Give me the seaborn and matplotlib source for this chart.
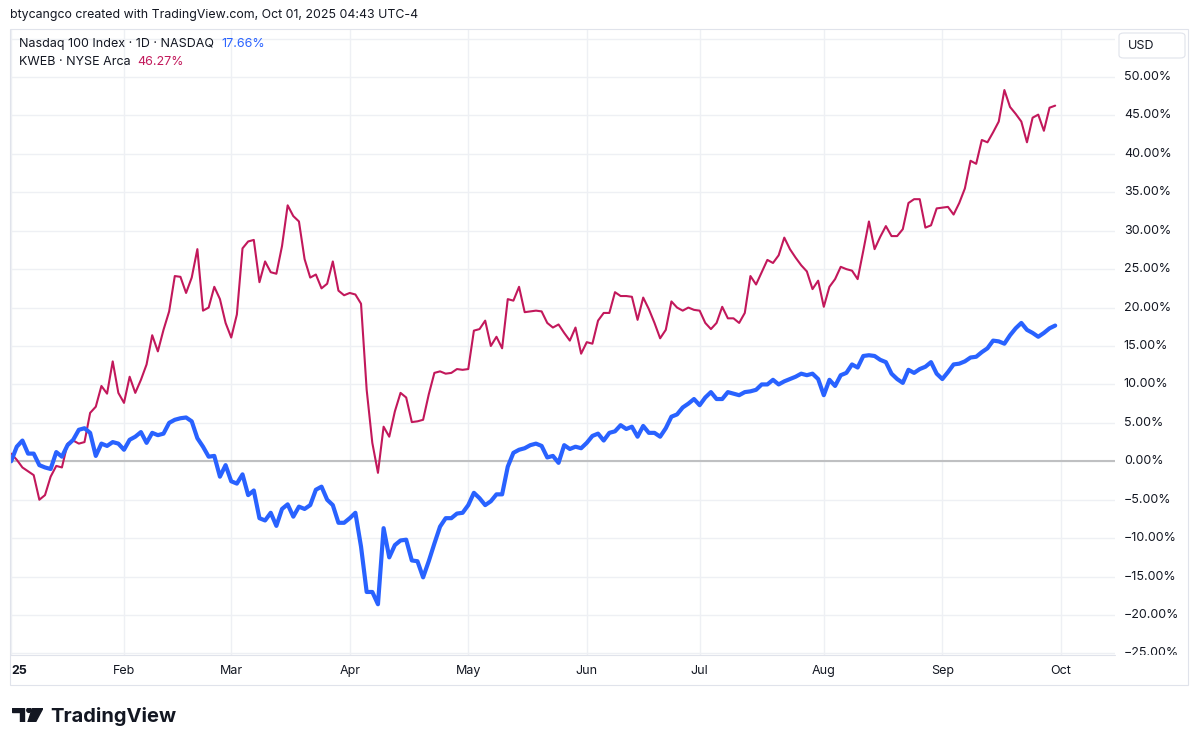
import numpy as np
import pandas as pd
import seaborn as sns
import matplotlib.pyplot as plt
from matplotlib import transforms
from matplotlib.lines import Line2D
from matplotlib.patches import Rectangle, FancyBboxPatch, Polygon, Circle

W, H = 1200, 747

sns.set_style("white")
plt.rcParams["font.family"] = ["Inter", "DejaVu Sans"]

# NYSE closures in the window (incl. the Jan 9 day of mourning)
holidays = ["2025-01-09", "2025-01-20", "2025-02-17", "2025-04-18",
            "2025-05-26", "2025-06-19", "2025-07-04", "2025-09-01"]
dates = pd.bdate_range("2025-01-02", "2025-09-30", freq="C", holidays=holidays)

# % change since first bar, one value per trading day
ndx_pct = [
    0.0, 1.9, 2.7, 1.0, 1.0, -0.5, -0.8, -1.0, 1.2, 0.6,
    2.1, 2.8, 4.1, 4.3, 3.7, 0.7, 2.3, 2.0, 2.5, 2.3,
    1.5, 2.8, 3.2, 3.8, 2.4, 3.7, 3.4, 3.6, 5.0, 5.4,
    5.6, 5.7, 5.2, 3.0, 1.9, 0.6, 0.7, -2.0, -0.5, -2.6,
    -2.9, -1.7, -4.4, -3.8, -7.4, -7.7, -6.7, -8.4, -6.2, -5.6,
    -7.2, -5.9, -6.2, -5.7, -3.7, -3.3, -5.0, -5.7, -8.0, -8.0,
    -7.4, -6.7, -11.1, -17.0, -17.0, -18.6, -8.7, -12.5, -10.9, -10.3,
    -10.2, -12.9, -13.0, -15.1, -13.0, -10.7, -8.5, -7.4, -7.4, -6.8,
    -6.7, -5.7, -4.1, -4.8, -5.7, -5.2, -4.3, -4.3, -0.7, 1.1,
    1.5, 1.7, 2.1, 2.3, 2.0, 0.5, 0.7, -0.2, 2.1, 1.6,
    1.9, 1.7, 2.4, 3.3, 3.6, 2.7, 3.7, 3.9, 4.7, 4.2,
    4.5, 3.2, 4.6, 3.7, 3.7, 3.2, 4.3, 5.8, 6.1, 7.0,
    7.5, 8.1, 7.3, 8.3, 9.0, 8.1, 8.1, 9.0, 8.8, 8.6,
    9.0, 9.1, 9.3, 10.0, 10.0, 10.6, 10.0, 10.4, 10.7, 11.0,
    11.4, 11.2, 11.4, 10.7, 8.6, 10.6, 9.8, 11.2, 11.5, 12.6,
    12.2, 13.7, 13.8, 13.7, 13.2, 12.9, 11.4, 10.7, 10.2, 11.9,
    11.5, 12.0, 12.3, 12.9, 11.4, 10.7, 11.6, 12.6, 12.7, 13.0,
    13.5, 13.6, 14.2, 14.7, 15.7, 15.6, 15.3, 16.4, 17.3, 18.0,
    17.1, 16.7, 16.2, 16.7, 17.3, 17.66,
]
kweb_pct = [
    1.0, 0.2, -0.8, -1.3, -1.8, -5.0, -4.4, -2.0, -0.6, -0.8,
    2.3, 2.7, 2.3, 2.5, 6.3, 7.1, 9.8, 8.8, 13.0, 8.9,
    7.6, 11.0, 8.9, 10.6, 12.6, 16.4, 14.3, 17.1, 19.5, 24.1,
    24.0, 21.9, 23.9, 27.6, 19.6, 20.0, 22.7, 21.1, 18.0, 16.1,
    19.1, 27.7, 28.6, 28.8, 23.3, 26.0, 24.6, 24.4, 28.0, 33.3,
    31.9, 31.2, 26.3, 23.9, 24.3, 22.5, 23.1, 26.0, 22.2, 21.6,
    21.9, 21.7, 20.5, 9.3, 2.4, -1.5, 4.5, 3.2, 6.5, 8.9,
    8.3, 5.1, 5.2, 5.4, 8.7, 11.5, 11.7, 11.4, 11.5, 12.0,
    11.9, 12.0, 17.0, 17.2, 18.3, 15.0, 16.2, 14.7, 21.1, 20.9,
    22.7, 19.4, 19.5, 19.6, 19.5, 18.0, 17.4, 17.8, 16.7, 15.7,
    17.4, 14.0, 15.5, 15.3, 18.3, 19.3, 19.3, 22.0, 21.5, 21.5,
    21.4, 18.4, 21.3, 19.8, 18.0, 16.0, 17.1, 20.8, 20.0, 19.6,
    20.0, 19.7, 19.6, 18.0, 17.2, 18.0, 20.1, 18.6, 18.6, 18.0,
    19.3, 24.1, 23.0, 24.6, 26.2, 25.8, 26.8, 29.1, 27.6, 26.5,
    25.5, 24.7, 22.4, 23.5, 20.1, 22.7, 23.7, 25.3, 25.0, 24.8,
    23.7, 27.4, 31.2, 27.6, 29.2, 30.6, 29.3, 29.3, 30.2, 33.6,
    34.1, 34.1, 30.4, 30.7, 32.9, 33.0, 33.1, 32.1, 33.6, 35.5,
    39.1, 38.7, 41.8, 41.5, 42.8, 44.2, 48.3, 46.1, 45.2, 44.2,
    41.5, 44.7, 45.1, 43.0, 46.0, 46.27,
]

ndx_name = "Nasdaq 100 Index · 1D · NASDAQ"
kweb_name = "KWEB · NYSE Arca"
pct_ticks = list(range(-25, 55, 5))

NDX_COLOR = "#2962FF"
KWEB_COLOR = "#C2185B"
TEXT = "#131722"
GRID = "#eef0f4"
BORDER = "#e0e3eb"

df = pd.DataFrame({"bar": np.arange(len(dates)), "date": dates,
                   "ndx": ndx_pct, "kweb": kweb_pct})


def px_box(x0, y0, x1, y1):
    return [x0 / W, 1 - y1 / H, (x1 - x0) / W, (y1 - y0) / H]


fig = plt.figure(figsize=(W / 100, H / 100), dpi=100)

ax = fig.add_axes(px_box(10, 29, 1115, 655))
sns.lineplot(data=df, x="bar", y="kweb", color=KWEB_COLOR, lw=1.5,
             estimator=None, ax=ax, zorder=3)
sns.lineplot(data=df, x="bar", y="ndx", color=NDX_COLOR, lw=3.0,
             estimator=None, ax=ax, zorder=4)

# TradingView spaces bars evenly, ticks sit on the first bar of each month
month_first = df.groupby(df["date"].dt.to_period("M"))["bar"].min()
tick_pos = list(month_first.values) + [len(df)]
tick_lab = ["25"] + [p.strftime("%b") for p in month_first.index[1:]]
tick_lab.append((dates[-1] + pd.offsets.MonthBegin()).strftime("%b"))

ax.set_xlim(-0.2, 195.6)
ax.set_ylim(-25.2, 56.24)
ax.set_xticks(tick_pos)
ax.set_yticks(list(range(-25, 60, 5)))
ax.grid(True, color=GRID, lw=1)
ax.set_axisbelow(True)
ax.axhline(0, color="#bfc0c2", lw=1.5, zorder=2)
ax.tick_params(length=0, labelbottom=False, labelleft=False)
ax.set_xlabel("")
ax.set_ylabel("")
for s in ax.spines.values():
    s.set_visible(False)

# price scale on the right
pax = fig.add_axes(px_box(1115, 29, 1188, 655))
pax.set_ylim(ax.get_ylim())
pax.axis("off")
ptrans = transforms.blended_transform_factory(pax.transAxes, pax.transData)
for v in pct_ticks:
    lab = f"{v:.2f}%".replace("-", "\u2212")
    pax.text(0.12, v, lab, transform=ptrans, ha="left", va="center",
             fontsize=9, color=TEXT, clip_on=True)

# time scale
ttrans = transforms.blended_transform_factory(ax.transData, fig.transFigure)
for i, (pos, lab) in enumerate(zip(tick_pos, tick_lab)):
    if i == 0:
        ax.text(pos, 1 - 671 / H, lab, transform=ttrans, ha="left",
                va="center", fontsize=9, fontweight="bold", color=TEXT)
    else:
        ax.text(pos, 1 - 671 / H, lab, transform=ttrans, ha="center",
                va="center", fontsize=9, color=TEXT)

# frame
fig.add_artist(Rectangle((10 / W, 1 - 685 / H), 1178 / W, 656 / H,
                         transform=fig.transFigure, fill=False,
                         ec=BORDER, lw=0.8))
fig.add_artist(Line2D([10 / W, 1115 / W], [1 - 655 / H, 1 - 655 / H],
                      transform=fig.transFigure, color=BORDER, lw=0.8))

# currency box
fig.add_artist(FancyBboxPatch((1119 / W, 1 - 58 / H), 66 / W, 25 / H,
                              boxstyle="round,pad=0,rounding_size=0.004",
                              transform=fig.transFigure, fc="white",
                              ec=BORDER, lw=0.8, zorder=5))
fig.text(1128 / W, 1 - 46 / H, "USD", fontsize=9, color=TEXT,
         va="center", ha="left", zorder=6)

# header
fig.text(10 / W, 1 - 15 / H,
         "btycangco created with TradingView.com, Oct 01, 2025 04:43 UTC-4",
         fontsize=8.9, color=TEXT, va="center", ha="left")

# legend
t1 = fig.text(19 / W, 1 - 44 / H, ndx_name, fontsize=9, color=TEXT,
              va="center", ha="left")
t2 = fig.text(19 / W, 1 - 62 / H, kweb_name, fontsize=9, color=TEXT,
              va="center", ha="left")
ax.annotate(f"{ndx_pct[-1]:.2f}%", xy=(1, 0.5), xycoords=t1,
            xytext=(5, 0), textcoords="offset points", va="center",
            ha="left", fontsize=9, color=NDX_COLOR, annotation_clip=False)
ax.annotate(f"{kweb_pct[-1]:.2f}%", xy=(1, 0.5), xycoords=t2,
            xytext=(5, 0), textcoords="offset points", va="center",
            ha="left", fontsize=9, color=KWEB_COLOR, annotation_clip=False)

# TradingView logo
lax = fig.add_axes(px_box(12, 708, 43, 722))
lax.set_xlim(0, 31)
lax.set_ylim(0, 14)
lax.axis("off")
lax.add_patch(Polygon([(0, 14), (12.3, 14), (12.3, 0), (8, 0), (8, 10),
                       (0, 10)], closed=True, color=TEXT))
lax.add_patch(Circle((17, 11.8), 2.2, color=TEXT))
lax.add_patch(Polygon([(20.5, 14), (31, 14), (23.5, 0), (16, 0)],
                      closed=True, color=TEXT))
fig.text(50 / W, 1 - 716 / H, "TradingView", fontsize=14.5,
         fontweight="bold", color=TEXT, va="center", ha="left")

fig.savefig("out.png", dpi=100, facecolor="white")
